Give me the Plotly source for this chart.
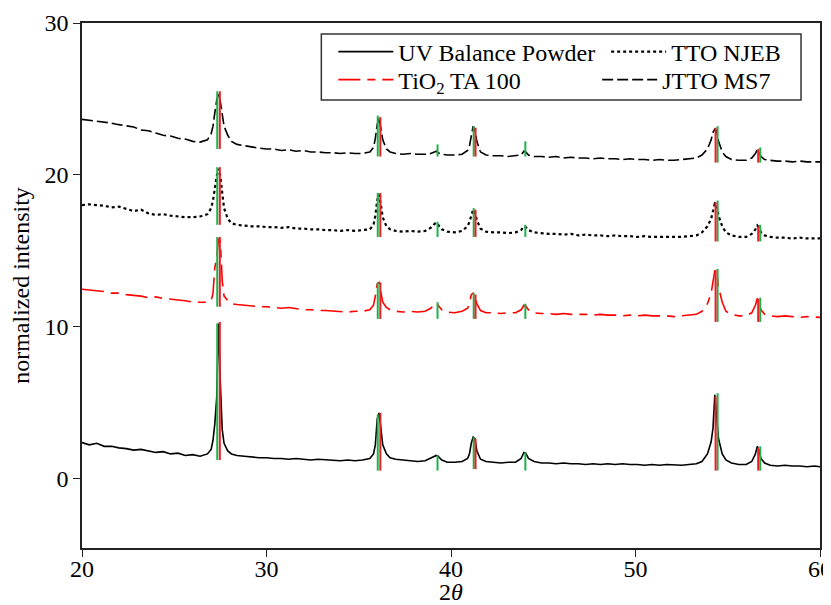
import plotly.graph_objects as go

# ---- shared 2-theta sampling grid (degrees) ----
two_theta = [
    20.0, 20.4, 20.8, 21.2, 21.6, 22.0, 22.4, 22.8, 23.2, 23.6, 24.0, 24.4, 24.8, 25.2, 25.6, 26.0, 26.4, 26.8,
    27.0, 27.1, 27.2, 27.3, 27.4, 27.5, 27.6, 27.7, 27.9, 28.1,
    28.4, 28.8, 29.2, 29.6, 30.0, 30.4, 30.8, 31.2, 31.6, 32.0, 32.4, 32.8, 33.2, 33.6, 34.0, 34.4, 34.8, 35.2, 35.6,
    35.8, 35.9, 36.0, 36.1, 36.2, 36.3, 36.5, 36.7,
    37.0, 37.4, 37.8, 38.2, 38.6, 38.9, 39.1, 39.2, 39.3, 39.5, 39.8, 40.2, 40.6, 40.9,
    41.0, 41.1, 41.2, 41.3, 41.4, 41.6,
    41.9, 42.3, 42.7, 43.1, 43.5, 43.8, 43.95, 44.05, 44.2, 44.5, 44.9, 45.3, 45.7, 46.1, 46.5, 46.9, 47.3, 47.7,
    48.1, 48.5, 48.9, 49.3, 49.7, 50.1, 50.5, 50.9, 51.3, 51.7, 52.1, 52.5, 52.9, 53.3, 53.6, 53.9,
    54.1, 54.2, 54.3, 54.4, 54.5, 54.7, 54.9,
    55.2, 55.6, 56.0, 56.3, 56.5, 56.6, 56.7, 56.8, 57.0, 57.3,
    57.7, 58.1, 58.5, 58.9, 59.3, 59.7, 60.0,
]

uv_balance = [
    2.35, 2.2, 2.3, 2.1, 2.1, 2.0, 1.95, 1.85, 1.9, 1.8, 1.7, 1.75, 1.6, 1.65, 1.5, 1.55, 1.45, 1.6,
    1.9, 2.5, 3.6, 5.3, 10.2, 6.2, 3.2, 2.3, 1.8, 1.6,
    1.5, 1.45, 1.4, 1.35, 1.35, 1.3, 1.3, 1.25, 1.3, 1.25, 1.2, 1.25, 1.2, 1.2, 1.15, 1.2, 1.15, 1.2, 1.3,
    1.6, 2.2, 3.9, 4.3, 3.3, 2.2, 1.6, 1.35,
    1.25, 1.2, 1.15, 1.1, 1.15, 1.3, 1.45, 1.5, 1.45, 1.2, 1.05, 1.05, 1.1, 1.3,
    1.6, 2.3, 2.7, 2.6, 1.8, 1.25,
    1.1, 1.05, 1.0, 1.05, 1.05, 1.3, 1.7, 1.65, 1.3, 1.1, 1.0, 1.0, 0.95, 1.0, 0.95, 0.95, 0.9, 0.95,
    0.9, 0.95, 0.9, 0.95, 0.9, 0.9, 0.85, 0.9, 0.85, 0.9, 0.85, 0.85, 0.9, 0.95, 1.1, 1.6,
    2.4, 3.3, 5.5, 4.1, 2.6, 1.6, 1.2,
    1.0, 0.9, 0.9, 1.1, 1.6, 2.1, 1.8, 1.3, 1.0, 0.85,
    0.8, 0.85, 0.8, 0.8, 0.75, 0.8, 0.75,
]

tio2_ta100 = [
    12.45, 12.4, 12.35, 12.3, 12.2, 12.2, 12.1, 12.05, 12.0, 11.9, 11.95, 11.85, 11.8, 11.75, 11.7, 11.6, 11.6, 11.6,
    11.7, 12.2, 13.9, 14.5, 15.8, 15.6, 13.0, 12.0, 11.7, 11.5,
    11.45, 11.4, 11.35, 11.3, 11.3, 11.25, 11.2, 11.25, 11.15, 11.1, 11.1, 11.05, 11.05, 11.0, 11.0, 10.95, 11.0, 11.0, 11.1,
    11.4, 12.0, 12.8, 12.9, 12.2, 11.6, 11.25, 11.1,
    11.0, 10.95, 11.0, 10.95, 11.0, 11.2, 11.45, 11.55, 11.4, 11.1, 10.95, 10.9, 11.0, 11.2,
    11.5, 12.1, 12.2, 12.0, 11.5, 11.05,
    10.9, 10.9, 10.85, 10.9, 10.9, 11.1, 11.4, 11.35, 11.1, 10.9, 10.85, 10.85, 10.8, 10.85, 10.8, 10.8, 10.8, 10.75,
    10.8, 10.75, 10.75, 10.7, 10.75, 10.7, 10.75, 10.7, 10.7, 10.7, 10.65, 10.7, 10.75, 10.8, 11.0, 11.5,
    12.2, 12.9, 13.7, 13.6, 12.6, 11.6, 11.0,
    10.8, 10.7, 10.7, 10.9, 11.4, 11.85, 11.6, 11.1, 10.8, 10.7,
    10.65, 10.7, 10.65, 10.6, 10.65, 10.6, 10.6,
]

tto_njeb = [
    18.0, 18.05, 18.0, 17.95, 17.85, 17.9, 17.75, 17.6, 17.7, 17.45, 17.35, 17.4, 17.3, 17.25, 17.2, 17.2, 17.25, 17.4,
    17.8, 18.3, 19.2, 19.9, 20.4, 19.9, 18.8, 17.8, 17.1, 16.8,
    16.7, 16.65, 16.6, 16.6, 16.55, 16.55, 16.5, 16.55, 16.45, 16.45, 16.4, 16.4, 16.35, 16.35, 16.3, 16.35, 16.3, 16.35, 16.4,
    16.7, 17.3, 18.3, 18.7, 18.0, 17.2, 16.6, 16.4,
    16.3, 16.25, 16.3, 16.25, 16.3, 16.5, 16.75, 16.85, 16.7, 16.4, 16.25, 16.2, 16.3, 16.6,
    16.9, 17.4, 17.7, 17.5, 17.0, 16.45,
    16.25, 16.2, 16.2, 16.15, 16.2, 16.35, 16.6, 16.55, 16.35, 16.2, 16.15, 16.1, 16.1, 16.05, 16.1, 16.0, 16.05, 16.0,
    16.0, 15.95, 16.0, 15.95, 15.95, 15.9, 15.95, 15.9, 15.9, 15.9, 15.85, 15.9, 15.95, 16.0, 16.2, 16.6,
    17.1, 17.6, 18.1, 18.0, 17.3, 16.6, 16.2,
    16.0, 15.9, 15.9, 16.1, 16.4, 16.65, 16.5, 16.2, 16.0, 15.9,
    15.85, 15.85, 15.8, 15.85, 15.8, 15.8, 15.8,
]

jtto_ms7 = [
    23.65, 23.6, 23.55, 23.5, 23.4, 23.3, 23.2, 23.15, 22.95, 22.9, 22.75, 22.6, 22.55, 22.4, 22.35, 22.2, 22.15, 22.3,
    22.7, 23.2, 24.1, 24.9, 25.3, 24.8, 24.0, 23.2, 22.6, 22.2,
    22.0, 21.9, 21.8, 21.75, 21.7, 21.7, 21.6, 21.65, 21.55, 21.6, 21.5, 21.5, 21.45, 21.45, 21.4, 21.45, 21.4, 21.4, 21.5,
    21.8, 22.4, 23.3, 23.8, 23.1, 22.3, 21.7, 21.5,
    21.4, 21.35, 21.4, 21.35, 21.35, 21.4, 21.5, 21.55, 21.45, 21.35, 21.3, 21.3, 21.35, 21.6,
    21.9, 22.6, 23.2, 22.9, 22.2, 21.5,
    21.3, 21.25, 21.25, 21.2, 21.25, 21.3, 21.55, 21.5, 21.3, 21.2, 21.2, 21.15, 21.2, 21.1, 21.15, 21.1, 21.1, 21.05,
    21.1, 21.05, 21.05, 21.0, 21.05, 21.0, 21.0, 20.95, 21.0, 20.95, 20.95, 21.0, 21.05, 21.1, 21.3, 21.7,
    22.3, 22.8, 23.0, 22.9, 22.2, 21.5, 21.2,
    21.0, 20.95, 20.95, 21.1, 21.4, 21.65, 21.5, 21.2, 21.0, 20.95,
    20.9, 20.9, 20.85, 20.9, 20.85, 20.85, 20.85,
]

# ---- reference reflection markers (green / red sticks), per curve ----
green_pos = [27.33, 36.03, 39.27, 41.23, 44.03, 54.45, 56.76]
red_pos = [27.47, 36.17, 41.33, 54.34, 56.65]

green_bottom = {
    "uv":   [1.2, 0.5, 0.5, 0.6, 0.5, 0.5, 0.5],
    "tio2": [11.3, 10.5, 10.5, 10.5, 10.5, 10.3, 10.3],
    "njeb": [16.7, 15.9, 15.9, 15.9, 15.9, 15.6, 15.6],
    "ms7":  [21.7, 21.2, 21.2, 21.2, 21.2, 20.8, 20.8],
}
green_top = {
    "uv":   [10.2, 4.2, 1.5, 2.7, 1.7, 5.6, 2.1],
    "tio2": [15.9, 12.9, 11.6, 12.2, 11.5, 13.8, 11.9],
    "njeb": [20.5, 18.8, 16.9, 17.8, 16.7, 18.3, 16.7],
    "ms7":  [25.5, 23.9, 22.0, 23.2, 22.2, 23.2, 21.8],
}
red_bottom = {
    "uv":   [1.2, 0.5, 0.6, 0.5, 0.5],
    "tio2": [11.3, 10.5, 10.5, 10.3, 10.3],
    "njeb": [16.7, 15.9, 15.9, 15.6, 15.6],
    "ms7":  [21.7, 21.2, 21.2, 20.8, 20.8],
}
red_top = {
    "uv":   [10.3, 4.3, 2.6, 5.4, 2.0],
    "tio2": [15.9, 12.9, 12.1, 13.7, 11.8],
    "njeb": [20.5, 18.8, 17.7, 18.2, 16.6],
    "ms7":  [25.5, 23.8, 23.1, 23.1, 21.7],
}

x_ticks = [20, 30, 40, 50, 60]
y_ticks = [0, 10, 20, 30]

FONT = "Liberation Serif, Times New Roman, Times, serif"

fig = go.Figure()

fig.add_trace(go.Scatter(x=two_theta, y=uv_balance, mode="lines", name="UV Balance Powder",
                         line=dict(color="black", width=1.6), legend="legend"))
fig.add_trace(go.Scatter(x=two_theta, y=tto_njeb, mode="lines", name="TTO NJEB",
                         line=dict(color="black", width=2.2, dash="3px,3px"), legend="legend2"))
fig.add_trace(go.Scatter(x=two_theta, y=tio2_ta100, mode="lines", name="TiO<sub>2</sub> TA 100",
                         line=dict(color="#ff0000", width=1.6, dash="22px,7px,8px,7px"), legend="legend3"))
fig.add_trace(go.Scatter(x=two_theta, y=jtto_ms7, mode="lines", name="JTTO MS7",
                         line=dict(color="black", width=1.6, dash="11px,4px"), legend="legend4"))


def sticks(pos, bottoms, tops):
    xs, ys = [], []
    for key in ["uv", "tio2", "njeb", "ms7"]:
        for p, b, t in zip(pos, bottoms[key], tops[key]):
            xs += [p, p, None]
            ys += [b, t, None]
    return xs, ys


gx, gy = sticks(green_pos, green_bottom, green_top)
rx, ry = sticks(red_pos, red_bottom, red_top)
fig.add_trace(go.Scatter(x=gx, y=gy, mode="lines", line=dict(color="#1db24b", width=2),
                         showlegend=False, hoverinfo="skip"))
fig.add_trace(go.Scatter(x=rx, y=ry, mode="lines", line=dict(color="#ee1c24", width=2),
                         showlegend=False, hoverinfo="skip"))

# page is shown with an 8px body margin, so work in page pixels and shift
OFF = 8
L, R, T, B = 81.5, 820, 23, 548
W, H = 831 - OFF, 605 - OFF


def px_x(p):
    return (p - L) / (R - L)


def px_y(p):
    return 1 - (p - T) / (B - T)


def leg(xpage, ypage):
    return dict(
        x=px_x(xpage), y=px_y(ypage), xanchor="left", yanchor="middle",
        font=dict(family=FONT, size=24, color="black"),
        bgcolor="rgba(0,0,0,0)", borderwidth=0, itemwidth=55, tracegroupgap=0,
    )


fig.update_layout(
    width=W, height=H,
    margin=dict(l=L - OFF, r=W - (R - OFF), t=T - OFF, b=H - (B - OFF)),
    paper_bgcolor="white", plot_bgcolor="white",
    font=dict(family=FONT, size=24, color="black"),
    showlegend=True,
    legend=leg(333, 52),
    legend2=leg(606, 52),
    legend3=leg(333, 80),
    legend4=leg(597, 80),
    xaxis=dict(
        range=[20, 60], tickvals=x_ticks, ticktext=[str(v) for v in x_ticks],
        showline=True, mirror=True, linecolor="#222", linewidth=1.5,
        ticks="outside", ticklen=7, tickcolor="#222", tickwidth=1.2,
        ticklabelstandoff=-9, ticklabeloverflow="allow",
        showgrid=False, zeroline=False, automargin=False,
        title=dict(text="2<i>θ</i>", font=dict(family=FONT, size=24), standoff=16),
        tickfont=dict(family=FONT, size=24),
    ),
    yaxis=dict(
        range=[-4.6, 30], tickvals=y_ticks, ticktext=[str(v) for v in y_ticks],
        showline=True, mirror=True, linecolor="#222", linewidth=1.5,
        ticks="outside", ticklen=7, tickcolor="#222", tickwidth=1.2,
        ticklabeloverflow="allow",
        showgrid=False, zeroline=False, automargin=False,
        title=dict(text="normalized intensity", font=dict(family=FONT, size=24), standoff=8),
        tickfont=dict(family=FONT, size=24),
    ),
    shapes=[dict(type="rect", xref="paper", yref="paper",
                 x0=px_x(321), x1=px_x(801), y0=px_y(100), y1=px_y(34),
                 line=dict(color="#333", width=1.5), fillcolor="rgba(0,0,0,0)")],
)

fig.write_html("out.html")
